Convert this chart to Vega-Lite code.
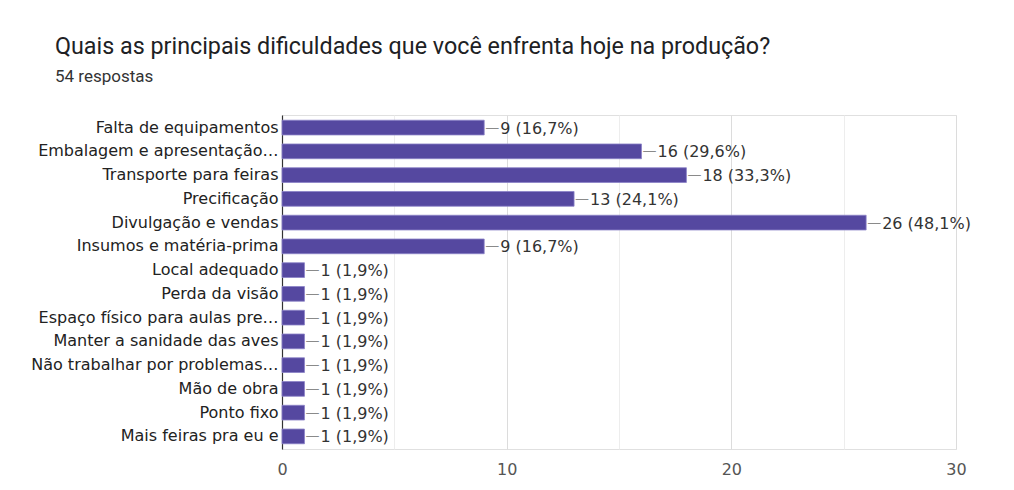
{
  "$schema": "https://vega.github.io/schema/vega-lite/v6.json",
  "autosize": {"type": "none"},
  "width": 674,
  "height": 334,
  "padding": {"left": 282, "top": 115, "right": 58, "bottom": 41},
  "background": "white",
  "title": {
    "text": "Quais as principais dificuldades que você enfrenta hoje na produção?",
    "subtitle": "54 respostas",
    "anchor": "start",
    "frame": "group",
    "dx": -227,
    "offset": 29,
    "font": "Roboto",
    "fontSize": 23.3,
    "fontWeight": "normal",
    "color": "#202124",
    "subtitleFont": "Roboto",
    "subtitleFontSize": 17,
    "subtitleColor": "#333333",
    "subtitlePadding": 10
  },
  "data": {
    "values": [
      {"categoria": "Falta de equipamentos", "respostas": 9, "rotulo": "9 (16,7%)"},
      {"categoria": "Embalagem e apresentação…", "respostas": 16, "rotulo": "16 (29,6%)"},
      {"categoria": "Transporte para feiras", "respostas": 18, "rotulo": "18 (33,3%)"},
      {"categoria": "Precificação", "respostas": 13, "rotulo": "13 (24,1%)"},
      {"categoria": "Divulgação e vendas", "respostas": 26, "rotulo": "26 (48,1%)"},
      {"categoria": "Insumos e matéria-prima", "respostas": 9, "rotulo": "9 (16,7%)"},
      {"categoria": "Local adequado", "respostas": 1, "rotulo": "1 (1,9%)"},
      {"categoria": "Perda da visão", "respostas": 1, "rotulo": "1 (1,9%)"},
      {"categoria": "Espaço físico para aulas pre…", "respostas": 1, "rotulo": "1 (1,9%)"},
      {"categoria": "Manter a sanidade das aves", "respostas": 1, "rotulo": "1 (1,9%)"},
      {"categoria": "Não trabalhar por problemas…", "respostas": 1, "rotulo": "1 (1,9%)"},
      {"categoria": "Mão de obra", "respostas": 1, "rotulo": "1 (1,9%)"},
      {"categoria": "Ponto fixo", "respostas": 1, "rotulo": "1 (1,9%)"},
      {"categoria": "Mais feiras pra eu e", "respostas": 1, "rotulo": "1 (1,9%)"}
    ]
  },
  "config": {
    "view": {"stroke": "#e0e0e0", "strokeWidth": 1},
    "font": "DejaVu Sans"
  },
  "encoding": {
    "y": {
      "field": "categoria",
      "type": "nominal",
      "sort": null,
      "scale": {"paddingInner": 0.38, "paddingOuter": 0.22},
      "axis": {
        "title": null,
        "labelFont": "DejaVu Sans",
        "labelFontSize": 16,
        "labelColor": "#222222",
        "labelLimit": 0,
        "labelPadding": 4,
        "ticks": false,
        "domain": true,
        "domainColor": "#333333",
        "domainWidth": 1.2,
        "grid": false
      }
    },
    "x": {
      "field": "respostas",
      "type": "quantitative",
      "scale": {"domain": [0, 30], "nice": false},
      "axis": {
        "title": null,
        "values": [0, 5, 10, 15, 20, 25, 30],
        "labelExpr": "datum.value % 10 === 0 ? datum.label : ''",
        "labelFlush": false,
        "labelFont": "DejaVu Sans",
        "labelFontSize": 16,
        "labelColor": "#555555",
        "labelPadding": 12,
        "ticks": false,
        "domain": false,
        "grid": true,
        "gridColor": {"condition": {"test": "datum.value % 10 === 0", "value": "#dcdcdc"}, "value": "#ededed"}
      }
    }
  },
  "layer": [
    {
      "mark": {"type": "bar", "color": "#5548a0", "stroke": "#8a82c6", "strokeWidth": 0.8}
    },
    {
      "mark": {"type": "text", "text": "—", "align": "left", "baseline": "middle", "dx": 1, "color": "#8a8a8a", "font": "DejaVu Sans", "fontSize": 14}
    },
    {
      "mark": {"type": "text", "align": "left", "baseline": "middle", "dx": 16, "dy": 1, "color": "#333333", "font": "DejaVu Sans", "fontSize": 16},
      "encoding": {"text": {"field": "rotulo"}}
    }
  ]
}
